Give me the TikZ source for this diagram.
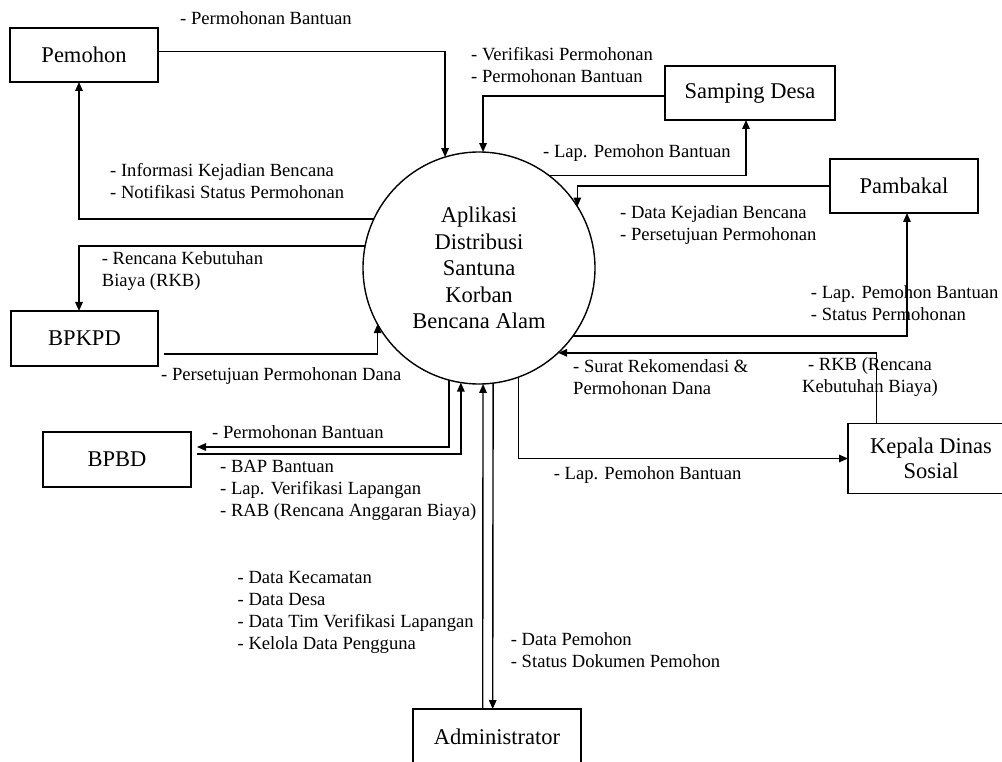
\documentclass[tikz,border=0pt]{standalone}
\usepackage{fontspec}
\setmainfont{Liberation Serif}
\usetikzlibrary{arrows.meta}

\begin{document}
\begin{tikzpicture}[x=1pt,y=-1pt,
  entity/.style={draw, line width=1.4pt, inner sep=0pt, outer sep=0pt,
    font=\fontsize{22.5}{25}\selectfont, align=center},
  process/.style={draw, circle, line width=1.4pt, inner sep=0pt, outer sep=0pt,
    minimum size=232pt, font=\fontsize{22.5}{26.5}\selectfont, align=center},
  flow/.style={line width=1.4pt, -{Triangle[length=9pt,width=7.5pt]}},
  lbl/.style={inner sep=0pt, anchor=west, align=left,
    font=\fontsize{18.6}{22}\selectfont}]

\useasboundingbox (0,0) rectangle (1002,762);

% external entities
\node[entity, minimum width=148pt, minimum height=54pt] (pemohon)  at (84,55)      {Pemohon};
\node[entity, minimum width=170pt, minimum height=54pt] (samping)  at (750,93)     {Samping Desa};
\node[entity, minimum width=148pt, minimum height=54pt] (pambakal) at (904,186)    {Pambakal};
\node[entity, minimum width=147pt, minimum height=55pt] (bpkpd)    at (84.5,338.5) {BPKPD};
\node[entity, minimum width=148pt, minimum height=55pt] (bpbd)     at (117,459.5)  {BPBD};
\node[entity, minimum width=166pt, minimum height=70pt] (kepala)   at (931,458.5)  {Kepala Dinas\\Sosial};
\node[entity, minimum width=168pt, minimum height=56pt] (admin)    at (497,737)    {Administrator};

% the system process
\node[process] (circ) at (479,268) {Aplikasi\\Distribusi\\Santuna\\Korban\\Bencana Alam};

% data flows
\draw[flow] ([yshift=3.3pt]pemohon.east) -| (circ.107.9);
\draw[flow] (circ.155.6) -| ([xshift=-5pt]pemohon.south);
\draw[flow] ([yshift=-3pt]samping.west) -| (circ.88.7);
\draw[flow] (circ.53.3) -| ([xshift=-4pt]samping.south);
\draw[flow] (pambakal.west) -| (circ.32.4);
\draw[flow] (circ.-36.5) -| ([xshift=3pt]pambakal.south);
\draw[flow] ([xshift=-54.3pt]kepala.north) |- (circ.-47.1);
\draw[flow] (circ.-70.9) |- (kepala.west);
\draw[flow] (circ.169.4) -| ([xshift=-5.5pt]bpkpd.north);
\draw[flow] ([xshift=6pt,yshift=-15.5pt]bpkpd.east) -| (circ.209.5);
\draw[flow] (circ.-105.5) |- ([xshift=6pt,yshift=12.5pt]bpbd.east);
\draw[flow] ([xshift=6pt,yshift=5.5pt]bpbd.east) -| (circ.-99.9);
\draw[flow] ([xshift=-14.3pt]admin.north) -- (circ.-88.2);
\draw[flow] (circ.-83.2) -- ([xshift=-4.3pt]admin.north);

% flow labels
\node[lbl] (t1)  at (180,18.5)  {- Permohonan Bantuan};
\node[lbl] (t2)  at (471,65)    {- Verifikasi Permohonan\\- Permohonan Bantuan};
\node[lbl] (t3)  at (543,153.5) {- Lap. Pemohon Bantuan};
\node[lbl] (t4)  at (110,181)   {- Informasi Kejadian Bencana\\- Notifikasi Status Permohonan};
\node[lbl] (t5)  at (620,225)   {- Data Kejadian Bencana\\- Persetujuan Permohonan};
\node[lbl] (t6)  at (101.7,271) {- Rencana Kebutuhan\\Biaya (RKB)};
\node[lbl] (t7)  at (810.7,303) {- Lap. Pemohon Bantuan\\- Status Permohonan};
\node[lbl] (t8)  at (161,376)   {- Persetujuan Permohonan Dana};
\node[lbl] (t9)  at (573,377)   {- Surat Rekomendasi \&\\Permohonan Dana};
\node[lbl, anchor=center, align=center] (t10) at (870,377) {- RKB (Rencana\\Kebutuhan Biaya)};
\node[lbl] (t11) at (212,432.5) {- Permohonan Bantuan};
\node[lbl] (t12) at (220,490.5) {- BAP Bantuan\\- Lap. Verifikasi Lapangan\\- RAB (Rencana Anggaran Biaya)};
\node[lbl] (t13) at (553.6,475.5) {- Lap. Pemohon Bantuan};
\node[lbl] (t14) at (237.5,612.5) {- Data Kecamatan\\- Data Desa\\- Data Tim Verifikasi Lapangan\\- Kelola Data Pengguna};
\node[lbl] (t15) at (510.7,650) {- Data Pemohon\\- Status Dokumen Pemohon};

\end{tikzpicture}
\end{document}
